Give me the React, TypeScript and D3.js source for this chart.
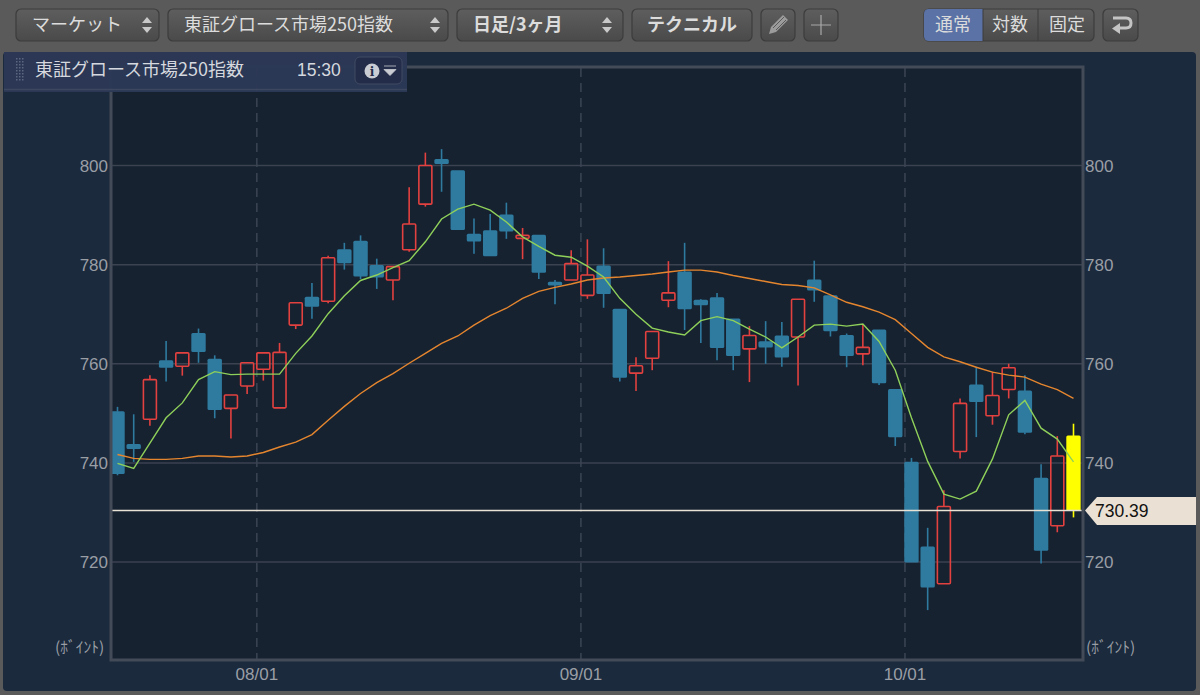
import React from 'react';
import { scaleLinear, line, range } from 'd3';

// daily candles (pts)
const opens = [750.3,743.7,748.8,760.6,759.5,766.1,760.9,751.0,755.5,758.9,751.1,767.8,773.4,772.6,783.0,784.7,779.8,776.9,783.0,792.2,801.2,798.9,786.1,786.8,790.0,785.3,785.9,776.4,776.9,773.8,779.7,771.0,758.1,761.1,772.8,778.5,772.8,773.3,769.0,763.0,764.4,765.6,765.4,776.9,773.7,765.7,762.0,766.8,754.8,740.1,723.0,715.6,742.3,755.7,749.5,754.8,754.5,736.9,727.3,745.4];
const closes = [737.9,742.9,756.8,759.3,762.2,762.5,750.8,753.7,760.2,762.2,762.3,772.3,771.6,781.4,780.4,777.7,777.5,779.6,788.2,800.0,800.4,787.1,784.8,781.8,786.8,785.9,778.5,775.9,780.2,777.9,774.2,757.3,759.6,766.5,774.3,771.1,771.9,763.3,761.7,765.7,763.4,761.4,773.0,774.9,766.7,761.7,763.3,756.2,745.3,720.0,715.0,731.2,752.0,752.4,753.6,759.2,746.2,722.4,741.4,730.39];
const highs = [751.3,749.8,757.7,764.6,762.2,767.1,761.7,753.7,760.2,762.2,764.2,772.3,776.3,781.8,784.4,785.9,781.2,779.6,795.6,802.6,803.3,798.9,789.3,790.2,792.5,787.4,785.9,776.9,782.9,785.1,783.3,771.0,761.3,766.5,780.7,784.4,773.0,774.3,769.0,767.6,768.6,768.4,773.0,780.8,773.7,766.1,768.0,766.8,754.8,741.0,726.9,734.5,753.0,759.4,758.4,760.0,757.7,739.7,745.4,747.9];
const lows = [737.5,740.2,747.5,756.4,757.6,760.2,749.0,744.9,753.9,756.6,751.1,767.0,769.1,772.2,779.0,777.1,775.1,772.8,782.6,791.7,794.7,787.1,782.2,781.8,785.2,781.1,777.1,772.0,776.9,773.1,771.3,756.4,754.5,758.7,771.4,766.8,764.2,760.7,758.7,756.3,760.0,759.4,755.6,772.5,765.5,759.3,759.7,755.7,743.4,720.0,710.3,715.6,740.9,745.2,747.7,753.0,745.8,719.7,726.0,729.0];
// moving averages
const maShort = [739.9,738.9,744.0,749.1,752.1,756.8,758.4,757.8,757.9,757.9,757.9,762.1,765.6,770.1,773.7,776.8,777.9,779.4,780.8,784.6,789.2,791.2,792.2,791.0,788.6,785.6,783.7,781.9,781.5,779.7,777.5,773.2,770.0,767.2,766.4,765.8,768.7,769.5,768.7,767.0,765.4,763.2,765.4,767.8,768.0,767.6,768.0,764.5,758.7,749.1,740.3,733.7,732.7,734.3,740.8,749.7,752.6,747.0,744.8,740.2];
const maLong = [741.7,740.9,740.7,740.7,740.9,741.4,741.4,741.2,741.4,742.1,743.2,744.2,745.7,748.6,751.4,754.0,756.2,758.0,760.1,762.1,764.1,765.6,767.8,769.7,771.2,773.2,774.6,775.4,776.1,776.9,777.3,777.5,777.8,778.1,778.5,778.9,778.9,778.5,777.8,777.2,776.6,776.0,775.8,775.3,773.9,772.4,771.5,770.4,768.9,766.1,763.3,761.4,760.4,759.3,758.3,757.7,757.3,755.9,754.8,753.0];
const priceTicks = [800, 780, 760, 740, 720];
const dateLabels = ['08/01', '09/01', '10/01'];
const datePositions = [8.6, 28.6, 48.6];
const lastPrice = 730.39;

const JP = '"Noto Sans CJK JP", sans-serif';
const LAT = '"Liberation Sans", sans-serif';

const x = scaleLinear().domain([0, 59]).range([117.5, 1073.5]);
const y = scaleLinear().domain([800, 720]).range([165.5, 562]);
const pathOf = line<number>().x((_, i) => x(i)).y((d) => y(d));

const Updown = ({ cx }: { cx: number }) => (
  <g fill="#c9c9c9">
    <path d={`M${cx - 5} 23 L${cx + 5} 23 L${cx} 17 Z`} />
    <path d={`M${cx - 5} 27 L${cx + 5} 27 L${cx} 33 Z`} />
  </g>
);

const Btn = ({ x0, x1 }: { x0: number; x1: number }) => (
  <rect x={x0} y={9} width={x1 - x0} height={32} rx={5} fill="url(#btn)" stroke="#3c3c3c" strokeWidth={1.2} />
);

const BtnText = ({ at, label, weight, anchor }: { at: number; label: string; weight?: number; anchor?: string }) => (
  <text x={at} y={31} fontFamily={JP} fontSize={18} fontWeight={weight || 400} fill="#dcdcdc" textAnchor={anchor || 'start'}>
    {label}
  </text>
);

const App = () => {
  const n = opens.length;
  return (
    <svg width={1200} height={695} style={{ position: 'absolute', left: 0, top: 0 }}>
      <defs>
        <linearGradient id="btn" x1="0" x2="0" y1="0" y2="1">
          <stop offset="0" stopColor="#5e5e5e" />
          <stop offset="1" stopColor="#4a4a4a" />
        </linearGradient>
        <clipPath id="plot">
          <rect x={111} y={67} width={972} height={593} />
        </clipPath>
      </defs>

      <rect width={1200} height={695} fill="#5a5a5a" />
      <rect x={3} y={52} width={1193} height={639} rx={4} fill="#1b2a3d" />
      <rect x={111} y={67} width={972} height={593} fill="#162230" />

      {/* grid */}
      {priceTicks.map((t) => (
        <line key={t} x1={111} x2={1083} y1={y(t)} y2={y(t)} stroke="#3b4250" strokeWidth={1.5} />
      ))}
      {datePositions.map((d) => (
        <line key={d} x1={x(d)} x2={x(d)} y1={68} y2={660} stroke="#3b4554" strokeWidth={1.5} strokeDasharray="9 6" />
      ))}

      {/* candles */}
      <g clipPath="url(#plot)">
        {range(n).map((i) => {
          const top = Math.max(opens[i], closes[i]);
          const bot = Math.min(opens[i], closes[i]);
          const last = i === n - 1;
          const up = closes[i] > opens[i];
          const c = last ? '#ffff00' : up ? '#e2413f' : '#2f7ba0';
          return (
            <g key={i}>
              <line x1={x(i)} x2={x(i)} y1={y(highs[i])} y2={y(top)} stroke={c} strokeWidth={1.6} />
              <line x1={x(i)} x2={x(i)} y1={y(bot)} y2={y(lows[i])} stroke={c} strokeWidth={1.6} />
              {up ? (
                <rect x={x(i) - 6.5} y={y(top)} width={13} height={y(bot) - y(top)} rx={1} fill="none" stroke={c} strokeWidth={1.6} />
              ) : (
                <rect x={x(i) - 7.2} y={y(top) - 0.6} width={14.4} height={y(bot) - y(top) + 1.2} rx={1.5} fill={c} />
              )}
            </g>
          );
        })}
        <path d={pathOf(maLong) || ''} fill="none" stroke="#e5862f" strokeWidth={1.4} />
        <path d={pathOf(maShort) || ''} fill="none" stroke="#8fd05a" strokeWidth={1.4} />
      </g>

      <line x1={111} x2={1084} y1={y(lastPrice)} y2={y(lastPrice)} stroke="#e9e3d6" strokeWidth={1.6} />

      {/* plot frame */}
      <path d="M111 67 H1083 V660 H111 Z" fill="none" stroke="#434a58" strokeWidth={3} />

      {/* axis labels */}
      {priceTicks.map((t) => (
        <g key={t} fontFamily={LAT} fontSize={17} fill="#9a9ea5">
          <text x={108} y={y(t) + 6} textAnchor="end">{t}</text>
          <text x={1085} y={y(t) + 6}>{t}</text>
        </g>
      ))}
      {dateLabels.map((d, i) => (
        <text key={d} x={x(datePositions[i])} y={680} textAnchor="middle" fontFamily={LAT} fontSize={17} fill="#9a9ea5">{d}</text>
      ))}
      <text x={55} y={653} fontFamily={JP} fontSize={15.5} fill="#9a9ea5">(ﾎﾞｲﾝﾄ)</text>
      <text x={1086} y={653} fontFamily={JP} fontSize={15.5} fill="#9a9ea5">(ﾎﾞｲﾝﾄ)</text>

      {/* last price tag */}
      <path d={`M1085 ${y(lastPrice)} L1097 497 H1196 V525 H1097 Z`} fill="#eae0d3" />
      <text x={1095} y={517} fontFamily={LAT} fontSize={17.5} fill="#111">{lastPrice}</text>

      {/* header strip */}
      <rect x={4} y={52} width={403} height={40} fill="#2c3856" fillOpacity={0.96} />
      <line x1={4} x2={407} y1={89.5} y2={89.5} stroke="#3e4760" strokeWidth={1.5} />
      {range(8).map((r) => (
        <g key={r} fill="#5c6680">
          <rect x={16} y={58 + r * 3} width={1.5} height={1.5} />
          <rect x={19} y={58 + r * 3} width={1.5} height={1.5} />
          <rect x={22} y={58 + r * 3} width={1.5} height={1.5} />
        </g>
      ))}
      <text x={35} y={76} fontFamily={JP} fontSize={18} fill="#d5d8de">東証グロース市場250指数</text>
      <text x={297} y={76} fontFamily={LAT} fontSize={17.5} fill="#d5d8de">15:30</text>
      <rect x={355} y={57} width={47} height={27} rx={5} fill="#232c48" stroke="#414a62" />
      <circle cx={372} cy={71} r={7.5} fill="#c9ccd2" />
      <text x={372} y={76} textAnchor="middle" fontFamily="'DejaVu Serif', serif" fontWeight={700} fontSize={12} fill="#232c48">i</text>
      <path d="M384 66 H396 M384 69.5 H396 L390 75.5 Z" fill="#c9ccd2" stroke="#c9ccd2" strokeWidth={0.8} />

      {/* toolbar */}
      <Btn x0={16} x1={159} />
      <BtnText at={32} label="マーケット" />
      <Updown cx={147} />
      <Btn x0={168} x1={448} />
      <BtnText at={184} label="東証グロース市場250指数" />
      <Updown cx={435} />
      <Btn x0={457} x1={623} />
      <BtnText at={473} label="日足/3ヶ月" weight={700} />
      <Updown cx={607} />
      <Btn x0={632} x1={752} />
      <BtnText at={692} label="テクニカル" weight={700} anchor="middle" />
      <Btn x0={761} x1={795} />
      <path d="M769 34 L771 27 L783 15 L788 20 L776 32 Z" fill="#9c9c9c" />
      <path d="M773 28 L784 17 M776 30 L786 20" stroke="#5a5a5a" strokeWidth={1} />
      <Btn x0={804} x1={838} />
      <path d="M821 15 V35 M811 25 H831" stroke="#a8a8a8" strokeWidth={1.2} />

      <rect x={924} y={9} width={170} height={32} rx={5} fill="url(#btn)" stroke="#3c3c3c" strokeWidth={1.2} />
      <path d="M929 9 H983 V41 H929 Q924 41 924 36 V14 Q924 9 929 9 Z" fill="#5a72a6" />
      <line x1={1038} x2={1038} y1={9} y2={41} stroke="#3c3c3c" />
      <line x1={983} x2={983} y1={9} y2={41} stroke="#3c3c3c" />
      <BtnText at={953} label="通常" anchor="middle" />
      <BtnText at={1010} label="対数" anchor="middle" />
      <BtnText at={1067} label="固定" anchor="middle" />
      <Btn x0={1103} x1={1138} />
      <path d="M1113 18 H1126 Q1131 18 1131 23 Q1131 28 1126 28 H1118" fill="none" stroke="#c4c4c4" strokeWidth={3} />
      <path d="M1120 23 V34 L1112 28.5 Z" fill="#c4c4c4" />
    </svg>
  );
};

export default App;
